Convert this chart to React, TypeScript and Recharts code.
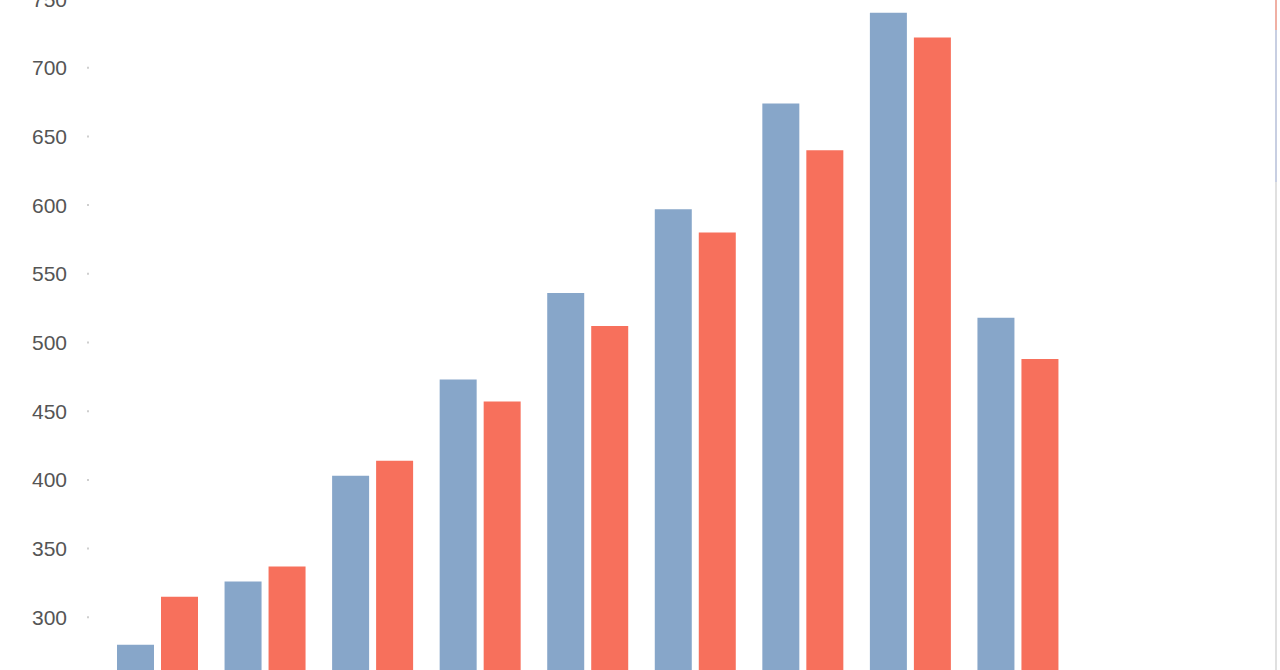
import React from "react";
import { BarChart, Bar, XAxis, YAxis } from "recharts";

// values (x-axis labels are cropped out of view)
const categories = ["1", "2", "3", "4", "5", "6", "7", "8", "9"];
const blueValues = [280, 326, 403, 473, 536, 597, 674, 740, 518];
const redValues = [315, 337, 414, 457, 512, 580, 640, 722, 488];
const yTicks = [300, 350, 400, 450, 500, 550, 600, 650, 700, 750];

const data = categories.map((name, i) => ({
  name,
  blue: blueValues[i],
  red: redValues[i],
}));

const AxisTick = ({ x, y, payload }: any) => (
  <g>
    <line x1={x - 17} x2={x - 15} y1={y} y2={y} stroke="#cfcfcf" strokeWidth={2} />
    <text
      x={x - 37}
      y={y}
      textAnchor="end"
      dominantBaseline="central"
      fill="#555"
      fontSize={21}
      fontFamily="'Liberation Sans', Arial, sans-serif"
    >
      {payload.value}
    </text>
  </g>
);

export default function App() {
  return (
    <div
      style={{
        position: "absolute",
        top: 0,
        left: 0,
        width: 1280,
        height: 670,
        overflow: "hidden",
        background: "#fff",
      }}
    >
      <div style={{ position: "absolute", top: -21, left: 0 }}>
        <BarChart
          width={1280}
          height={727}
          data={data}
          margin={{ top: 20, right: 208, bottom: 20, left: 0 }}
          barSize={37}
          barGap={7}
        >
          <XAxis dataKey="name" hide />
          <YAxis
            width={104}
            domain={[250, 750]}
            ticks={yTicks}
            allowDataOverflow
            axisLine={false}
            tickLine={false}
            tickSize={0}
            tickMargin={0}
            tick={<AxisTick />}
          />
          <Bar dataKey="blue" fill="#87a6c9" isAnimationActive={false} />
          <Bar dataKey="red" fill="#f7705c" isAnimationActive={false} />
        </BarChart>
      </div>
      {/* thin panel edge on the right, with a bit of the cropped legend */}
      <div
        style={{
          position: "absolute",
          top: 0,
          left: 1275,
          width: 2,
          height: 670,
          background:
            "linear-gradient(#f0b0a4 0px, #f0b0a4 30px, #c8cfe2 30px, #c8cfe2 182px, #e0e0e0 182px)",
        }}
      />
    </div>
  );
}
